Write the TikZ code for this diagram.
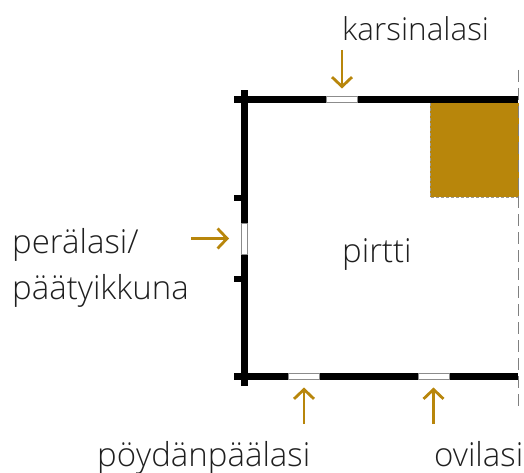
\documentclass[tikz,border=0pt]{standalone}
\usepackage{fontspec}
\setmainfont{Open Sans Light}
\usetikzlibrary{arrows.meta}
\definecolor{gold}{HTML}{B8860B}
\tikzset{
 wall/.style={fill=black,draw=none},
 win/.style={fill=white,draw=black!45,line width=0.6pt,inner sep=0pt,outer sep=0pt},
 winh/.style={win,minimum width=31pt,minimum height=6pt},
 winv/.style={win,minimum width=5.6pt,minimum height=31pt},
 arr/.style={draw=gold,line width=2.8pt,-{Straight Barb[length=9.5pt,width=20pt,line width=2.8pt]},shorten >=8pt},
 lab/.style={font=\fontsize{33}{43}\selectfont,text=black!88,inner sep=0pt,anchor=base west,align=left},
}
\begin{document}
\begin{tikzpicture}[x=1pt,y=-1pt]
\useasboundingbox (0,0) rectangle (524,473);
\fill[gold] (430,103) rectangle (518.5,197);
\draw[black!40,line width=0.5pt,dash pattern=on 3pt off 2pt] (430,103) -- (430,197) -- (518,197);
\fill[wall] (234,96) rectangle (518,103);
\fill[wall] (234,373) rectangle (518,380);
\fill[wall] (241,90) rectangle (247.5,386);
\fill[wall] (234,195) rectangle (241,201);
\fill[wall] (234,276) rectangle (241,282);
\draw[black!50,line width=0.8pt,dash pattern=on 12pt off 6pt] (518.7,70) -- (518.7,410);
\node[winh] (wtop) at (342,99.5) {};
\node[winv] (wleft) at (244.3,238.5) {};
\node[winh] (wb1) at (304,376.5) {};
\node[winh] (wb2) at (433.5,376.5) {};
\coordinate (ats) at (342,50);
\coordinate (als) at (191,238.5);
\coordinate (b1s) at (304,424);
\coordinate (b2s) at (433.5,424);
\draw[arr] (ats) -- (wtop);
\draw[arr,shorten >=12.5pt] (als) -- (wleft);
\draw[arr] (b1s) -- (wb1);
\draw[arr] (b2s) -- (wb2);
\node[lab,font=\fontsize{31.5}{40}\selectfont] (karsina) at (342,41) {karsinalasi};
\node[lab] (pirtti) at (342,262) {pirtti};
\node[lab] (pera) at (12,253) {perälasi/};
\node[lab] (paaty) at (12,299) {päätyikkuna};
\node[lab] (poyta) at (97,466) {pöydänpäälasi};
\node[lab] (ovi) at (434,466) {ovilasi};
\end{tikzpicture}
\end{document}
